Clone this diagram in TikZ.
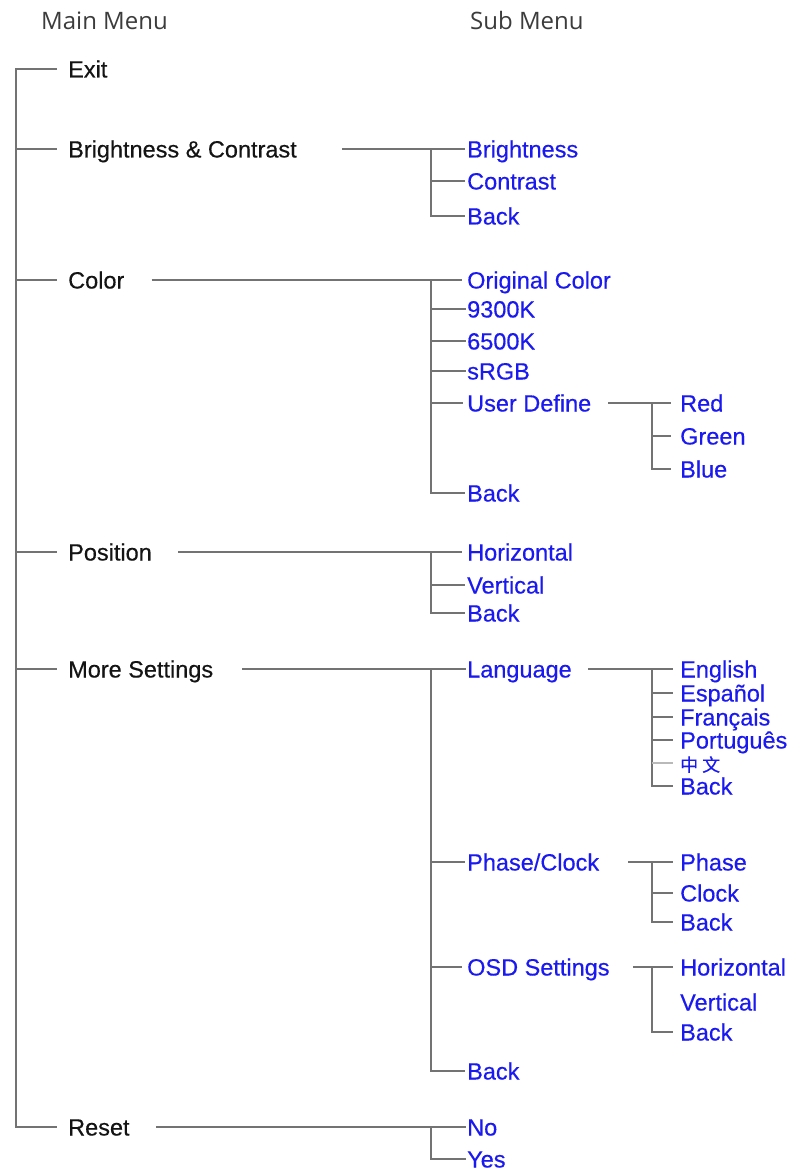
\documentclass[tikz,border=0pt]{standalone}
\usepackage{fontspec}
\setmainfont{Liberation Sans}
\newfontfamily\menufont[FakeBold=0.4]{Liberation Sans}
\newfontfamily\headfont{Open Sans}
\newfontfamily\cjkfont[FakeBold=0.3]{Noto Sans CJK SC}
\definecolor{menublue}{RGB}{25,25,240}
\definecolor{mainblack}{RGB}{20,20,20}
\definecolor{headgray}{RGB}{60,60,60}
\definecolor{linegray}{RGB}{115,115,115}

\begin{document}
\begin{tikzpicture}[
    x=1pt, y=-1pt,
    every node/.style={anchor=west, inner sep=0pt, text height=17pt, text depth=0pt, font=\menufont\fontsize{23.5}{26}\selectfont},
    head/.style={font=\headfont\fontsize{24}{26}\selectfont, text=headgray},
    mainitem/.style={text=mainblack},
    subitem/.style={text=menublue},
    tree/.style={draw=linegray, line width=1.3pt}
]
\useasboundingbox (0,0) rectangle (801,1174);
\coordinate (trunk) at (16,0);
\coordinate (subbar) at (431,0);
\coordinate (leafbar) at (652,0);

\node[head] (mainhead) at (41,21) {Main Menu};
\node[head] (subhead) at (470,21) {Sub Menu};

\node[mainitem] (exit) at (68,69) {Exit};
\node[mainitem] (bc) at (68,149) {Brightness \& Contrast};
\node[mainitem] (color) at (68,280) {Color};
\node[mainitem] (position) at (68,552) {Position};
\node[mainitem] (more) at (68,669) {More Settings};
\node[mainitem] (reset) at (68,1127) {Reset};

\node[subitem] (bright) at (467,149) {Brightness};
\node[subitem] (contrast) at (467,181) {Contrast};
\node[subitem] (bcback) at (467,216) {Back};

\node[subitem] (original) at (467,280) {Original Color};
\node[subitem] (k9300) at (467,309) {9300K};
\node[subitem] (k6500) at (467,341) {6500K};
\node[subitem] (srgb) at (467,371) {sRGB};
\node[subitem] (user) at (467,403) {User Define};
\node[subitem] (colorback) at (467,493) {Back};
\node[subitem] (red) at (680,403) {Red};
\node[subitem] (green) at (680,436) {Green};
\node[subitem] (blue) at (680,469) {Blue};

\node[subitem] (horiz) at (467,552) {Horizontal};
\node[subitem] (vert) at (467,585) {Vertical};
\node[subitem] (posback) at (467,613) {Back};

\node[subitem] (language) at (467,669) {Language};
\node[subitem] (phaseclock) at (467,862) {Phase/Clock};
\node[subitem] (osd) at (467,967) {OSD Settings};
\node[subitem] (moreback) at (467,1071) {Back};
\node[subitem] (english) at (680,669) {English};
\node[subitem] (espanol) at (680,693) {Español};
\node[subitem] (francais) at (680,717) {Français};
\node[subitem] (portugues) at (680,740) {Português};
\node[subitem, font=\cjkfont\fontsize{18}{20}\selectfont] (chinese) at (680,763) {中 文};
\node[subitem] (langback) at (680,786) {Back};
\node[subitem] (phase) at (680,862) {Phase};
\node[subitem] (clock) at (680,893) {Clock};
\node[subitem] (phaseback) at (680,922) {Back};
\node[subitem] (osdhoriz) at (680,967) {Horizontal};
\node[subitem] (osdvert) at (680,1002) {Vertical};
\node[subitem] (osdback) at (680,1032) {Back};

\node[subitem] (no) at (467,1127) {No};
\node[subitem] (yes) at (467,1159) {Yes};

\draw[tree] ([xshift=-11pt]exit.west) -- (exit.west -| trunk) -- (reset.west -| trunk) -- ([xshift=-11pt]reset.west);
\draw[tree] (bc.west -| trunk) -- ([xshift=-11pt]bc.west);
\draw[tree] (color.west -| trunk) -- ([xshift=-11pt]color.west);
\draw[tree] (position.west -| trunk) -- ([xshift=-11pt]position.west);
\draw[tree] (more.west -| trunk) -- ([xshift=-11pt]more.west);

\draw[tree] ([xshift=45pt]bc.east) -- ([xshift=-2pt]bright.west);
\draw[tree] (bright.west -| subbar) |- ([xshift=-2pt]bcback.west);
\draw[tree] (contrast.west -| subbar) -- ([xshift=-2pt]contrast.west);

\draw[tree] ([xshift=27pt]color.east) -- ([xshift=-5pt]original.west);
\draw[tree] (original.west -| subbar) |- ([xshift=-2pt]colorback.west);
\draw[tree] (k9300.west -| subbar) -- ([xshift=-1pt]k9300.west);
\draw[tree] (k6500.west -| subbar) -- ([xshift=-1pt]k6500.west);
\draw[tree] (srgb.west -| subbar) -- ([xshift=-1pt]srgb.west);
\draw[tree] (user.west -| subbar) -- ([xshift=-4pt]user.west);
\draw[tree] ([xshift=17pt]user.east) -- ([xshift=-9pt]red.west);
\draw[tree] (red.west -| leafbar) |- ([xshift=-9pt]blue.west);
\draw[tree] (green.west -| leafbar) -- ([xshift=-9pt]green.west);

\draw[tree] ([xshift=26pt]position.east) -- ([xshift=-5pt]horiz.west);
\draw[tree] (horiz.west -| subbar) |- ([xshift=-2pt]posback.west);
\draw[tree] (vert.west -| subbar) -- ([xshift=-2pt]vert.west);

\draw[tree] ([xshift=29pt]more.east) -- ([xshift=-1pt]language.west);
\draw[tree] (language.west -| subbar) |- ([xshift=-2pt]moreback.west);
\draw[tree] (phaseclock.west -| subbar) -- ([xshift=-2pt]phaseclock.west);
\draw[tree] (osd.west -| subbar) -- ([xshift=-5pt]osd.west);
\draw[tree] ([xshift=16pt]language.east) -- ([xshift=-7pt]english.west);
\draw[tree] (english.west -| leafbar) |- ([xshift=-7pt]langback.west);
\draw[tree] (espanol.west -| leafbar) -- ([xshift=-7pt]espanol.west);
\draw[tree] (francais.west -| leafbar) -- ([xshift=-7pt]francais.west);
\draw[tree] (portugues.west -| leafbar) -- ([xshift=-7pt]portugues.west);
\draw[tree, draw=linegray!50] (chinese.west -| leafbar) -- ([xshift=-7pt]chinese.west);
\draw[tree] ([xshift=29pt]phaseclock.east) -- ([xshift=-7pt]phase.west);
\draw[tree] (phase.west -| leafbar) |- ([xshift=-7pt]phaseback.west);
\draw[tree] (clock.west -| leafbar) -- ([xshift=-7pt]clock.west);
\draw[tree] ([xshift=23pt]osd.east) -- ([xshift=-7pt]osdhoriz.west);
\draw[tree] (osdhoriz.west -| leafbar) |- ([xshift=-7pt]osdback.west);

\draw[tree] ([xshift=26pt]reset.east) -- ([xshift=-1pt]no.west);
\draw[tree] (no.west -| subbar) |- ([xshift=-1pt]yes.west);
\end{tikzpicture}
\end{document}
